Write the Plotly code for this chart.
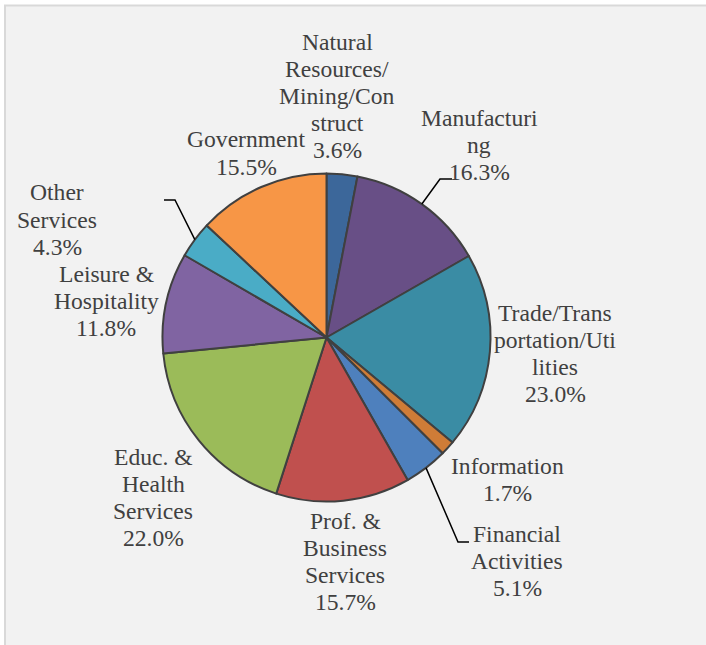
import math
import plotly.graph_objects as go

W, H = 706, 645

# ---- data ----
sectors = ["Natural Resources/Mining/Construct", "Manufacturing",
           "Trade/Transportation/Utilities", "Information", "Financial Activities",
           "Prof. & Business Services", "Educ. & Health Services",
           "Leisure & Hospitality", "Other Services", "Government"]
shares = [3.6, 16.3, 23.0, 1.7, 5.1, 15.7, 22.0, 11.8, 4.3, 15.5]
colors = ["#3c679a", "#684f86", "#3a8ca4", "#cf7c37", "#4e80bd",
          "#c0504e", "#9bbb59", "#8064a2", "#4aacc6", "#f79646"]

# label text as wrapped in the reference (name lines)
label_lines = [
    ["Natural", "Resources/", "Mining/Con", "struct"],
    ["Manufacturi", "ng"],
    ["Trade/Trans", "portation/Uti", "lities"],
    ["Information"],
    ["Financial", "Activities"],
    ["Prof. &", "Business", "Services"],
    ["Educ. &", "Health", "Services"],
    ["Leisure &", "Hospitality"],
    ["Other", "Services"],
    ["Government"],
]

# ---- layout (pixel) ----
CX, CY, R = 326.5, 337.5, 164.0
# label center x and first-line baseline y
label_pos = [(337, 49), (479, 125), (555, 320), (507, 473), (517, 541),
             (345, 528), (153, 464), (106, 281), (57, 200), (246, 147)]
LINE_H = 27.2
FONT_SIZE = 23.6
FONT_FAMILY = "Liberation Serif, Times New Roman, Times, serif"
TEXT_COLOR = "#404040"
# leader lines: text-side points (pixel), pie end computed from slice mid-angle
leaders = {1: [(452, 179), (440, 179)],
           4: [(469, 542), (458, 542)],
           8: [(164, 200), (175, 200)]}


def px(x):
    return x / W


def py(y):
    return 1 - y / H


fig = go.Figure()
fig.add_trace(go.Pie(
    labels=sectors, values=shares, sort=False, direction="clockwise",
    rotation=0, textinfo="none", hoverinfo="label+text",
    text=[f"{v:.1f}%" for v in shares],
    marker=dict(colors=colors, line=dict(color="#404040", width=2)),
    domain=dict(x=[px(CX - R), px(CX + R)], y=[py(CY + R), py(CY - R)]),
    showlegend=False,
))

annotations = []
for i, lines in enumerate(label_lines):
    allines = lines + [f"{shares[i]:.1f}%"]
    x0, y0 = label_pos[i]
    for k, t in enumerate(allines):
        base = y0 + k * LINE_H
        annotations.append(dict(
            x=px(x0), y=py(base - 7.5), xref="paper", yref="paper",
            text=t, showarrow=False, xanchor="center", yanchor="middle",
            font=dict(family=FONT_FAMILY, size=FONT_SIZE, color=TEXT_COLOR),
        ))

shapes = [dict(type="rect", xref="paper", yref="paper", layer="below",
               x0=px(5), x1=px(W + 20), y0=py(H + 20), y1=py(5.5),
               fillcolor="#f2f2f2", line=dict(color="#d9d9d9", width=2))]

total = sum(shares)
cum = 0.0
mids = []
for v in shares:
    mids.append((cum + v / 2) / total * 2 * math.pi)
    cum += v
for i, pts in leaders.items():
    a = mids[i]
    ex, ey = CX + R * math.sin(a), CY - R * math.cos(a)
    path_pts = pts + [(ex, ey)]
    d = "M " + " L ".join(f"{px(x)},{py(y)}" for x, y in path_pts)
    shapes.append(dict(type="path", xref="paper", yref="paper", path=d,
                       line=dict(color="#000000", width=1.5), layer="above"))

fig.update_layout(
    width=W, height=H, margin=dict(l=0, r=0, t=0, b=0),
    paper_bgcolor="#ffffff", plot_bgcolor="#ffffff",
    font=dict(family=FONT_FAMILY),
    annotations=annotations, shapes=shapes,
)

fig.write_html("out.html")
